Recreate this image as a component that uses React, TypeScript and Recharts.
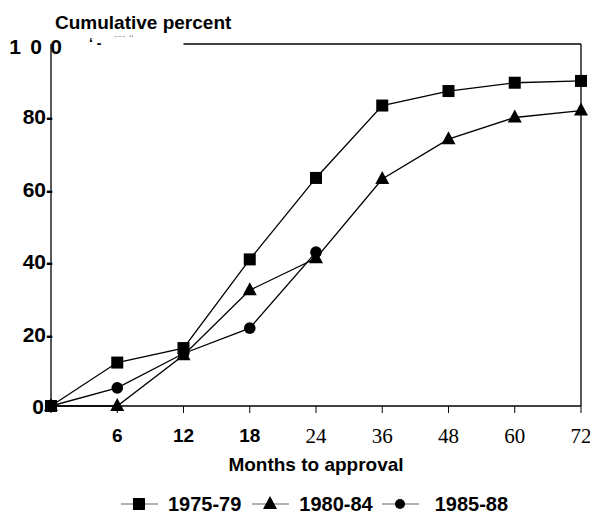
import React from "react";
import { LineChart, Line, XAxis, YAxis, Legend, ReferenceLine } from "recharts";

// months since submission (category axis, equally spaced)
const months = [0, 6, 12, 18, 24, 36, 48, 60, 72];
const yTicks = [0, 20, 40, 60, 80, 100];

// cumulative percent approved
const s1975 = [0, 12, 16, 40.5, 63, 83, 87, 89.3, 89.8];
const s1980 = [0, 0, 14, 32, 40.8, 62.7, 73.7, 79.7, 81.6];
const s1985 = [0, 5, 14.5, 21.5, 42.5, null, null, null, null];

const seriesNames = ["1975-79", "1980-84", "1985-88"];

const SANS = '"Liberation Sans", Arial, sans-serif';
const SERIF = '"Liberation Serif", "Times New Roman", serif';

const data = months.map((m, i) => ({
  month: m,
  a: s1975[i],
  b: s1980[i],
  c: s1985[i],
}));

function marker(kind: string, cx: number, cy: number, key?: any, small = false) {
  if (kind === "square")
    return <rect key={key} x={cx - 6} y={cy - 6} width={12} height={12} fill="#000" />;
  if (kind === "triangle")
    return (
      <path
        key={key}
        d={`M${cx},${cy - 8} L${cx + 7},${cy + 5} L${cx - 7},${cy + 5} Z`}
        fill="#000"
      />
    );
  return <circle key={key} cx={cx} cy={cy} r={small ? 5 : 5.8} fill="#000" />;
}

const dotOf = (kind: string) => (p: any) =>
  p.cy == null || p.value == null ? (
    <g key={p.index} />
  ) : (
    marker(kind, p.cx, p.cy, p.index)
  );

const XTick = ({ x, y, payload }: any) => {
  const v = payload.value;
  if (v === 0) return <g />;
  const bold = v <= 18;
  return (
    <text
      x={x}
      y={y}
      dy={bold ? 27 : 28}
      textAnchor="middle"
      fontFamily={bold ? SANS : SERIF}
      fontWeight={bold ? 700 : 400}
      fontSize={bold ? 19 : 21}
      fill="#000"
    >
      {v}
    </text>
  );
};

const YTick = ({ y, payload }: any) => {
  const v = payload.value;
  const common = {
    fontFamily: SANS,
    fontWeight: 700,
    fontSize: 21,
    fill: "#000",
  };
  if (v === 100) {
    // "1 0 0" is set wide apart, with a few stray scan marks after it
    return (
      <g>
        <text x={15} y={y} dy={10} textAnchor="middle" {...common}>1</text>
        <text x={36} y={y} dy={10} textAnchor="middle" {...common}>0</text>
        <text x={56} y={y} dy={10} textAnchor="middle" {...common}>0</text>
        <text x={89} y={y} dy={4} fontFamily={SANS} fontWeight={700} fontSize={14} fill="#000">
          ‘ -
        </text>
        <text x={114} y={y} dy={-1} fontFamily={SANS} fontSize={11} fill="#888">
          ⁻⁻⁻ ‘‘
        </text>
      </g>
    );
  }
  return (
    <text x={v === 0 ? 44 : 53} y={y} dy={8} textAnchor="end" {...common}>
      {v === 0 ? "0" : `${v}-`}
    </text>
  );
};

const kinds = ["square", "triangle", "circle"];

const LegendContent = () => (
  <div
    style={{
      display: "flex",
      justifyContent: "center",
      alignItems: "center",
      height: 30,
      fontFamily: SANS,
      fontWeight: 700,
      fontSize: 20,
      lineHeight: "20px",
      paddingLeft: 50,
    }}
  >
    {seriesNames.map((name, i) => (
      <div key={name} style={{ display: "flex", alignItems: "center", marginRight: i === 1 ? 9 : 11 }}>
        <svg width={37} height={20}>
          <line x1={0} y1={10} x2={37} y2={10} stroke="#666" strokeWidth={1.2} />
          {marker(kinds[i], 18, 10, undefined, true)}
        </svg>
        <span style={{ marginLeft: i === 2 ? 16 : 10 }}>{name}</span>
      </div>
    ))}
  </div>
);

export default function App() {
  return (
    <div style={{ position: "absolute", left: 0, top: 0, background: "#fff" }}>
      <LineChart
        width={590}
        height={516}
        data={data}
        margin={{ top: 44, right: 9, left: 0, bottom: 2 }}
      >
        <XAxis
          dataKey="month"
          tickLine={{ stroke: "#000" }}
          tickSize={7}
          axisLine={{ stroke: "#000", strokeWidth: 1.3 }}
          tick={<XTick />}
          height={78}
          interval={0}
          label={{
            value: "Months to approval",
            position: "insideBottom",
            offset: 13,
            fontFamily: SANS,
            fontWeight: 700,
            fontSize: 19,
            fill: "#000",
          }}
        />
        <YAxis
          width={51}
          domain={[0, 100]}
          ticks={yTicks}
          tickLine={false}
          axisLine={{ stroke: "#000", strokeWidth: 1.3 }}
          tick={<YTick />}
          label={{
            content: () => (
              <text x={55} y={29} fontFamily={SANS} fontWeight={700} fontSize={19} fill="#000">
                Cumulative  percent
              </text>
            ),
          }}
        />
        <ReferenceLine
          segment={[
            { x: 12, y: 100 },
            { x: 72, y: 100 },
          ]}
          stroke="#000"
          strokeWidth={1.3}
        />
        <ReferenceLine x={72} stroke="#000" strokeWidth={1.3} />
        <Line
          dataKey="c"
          name={seriesNames[2]}
          stroke="#000"
          strokeWidth={1.3}
          dot={dotOf("circle")}
          isAnimationActive={false}
        />
        <Line
          dataKey="b"
          name={seriesNames[1]}
          stroke="#000"
          strokeWidth={1.3}
          dot={dotOf("triangle")}
          isAnimationActive={false}
        />
        <Line
          dataKey="a"
          name={seriesNames[0]}
          stroke="#000"
          strokeWidth={1.3}
          dot={dotOf("square")}
          isAnimationActive={false}
        />
        <Legend
          verticalAlign="bottom"
          height={30}
          wrapperStyle={{ bottom: -3, left: 0, width: 590 }}
          content={<LegendContent />}
        />
      </LineChart>
    </div>
  );
}
